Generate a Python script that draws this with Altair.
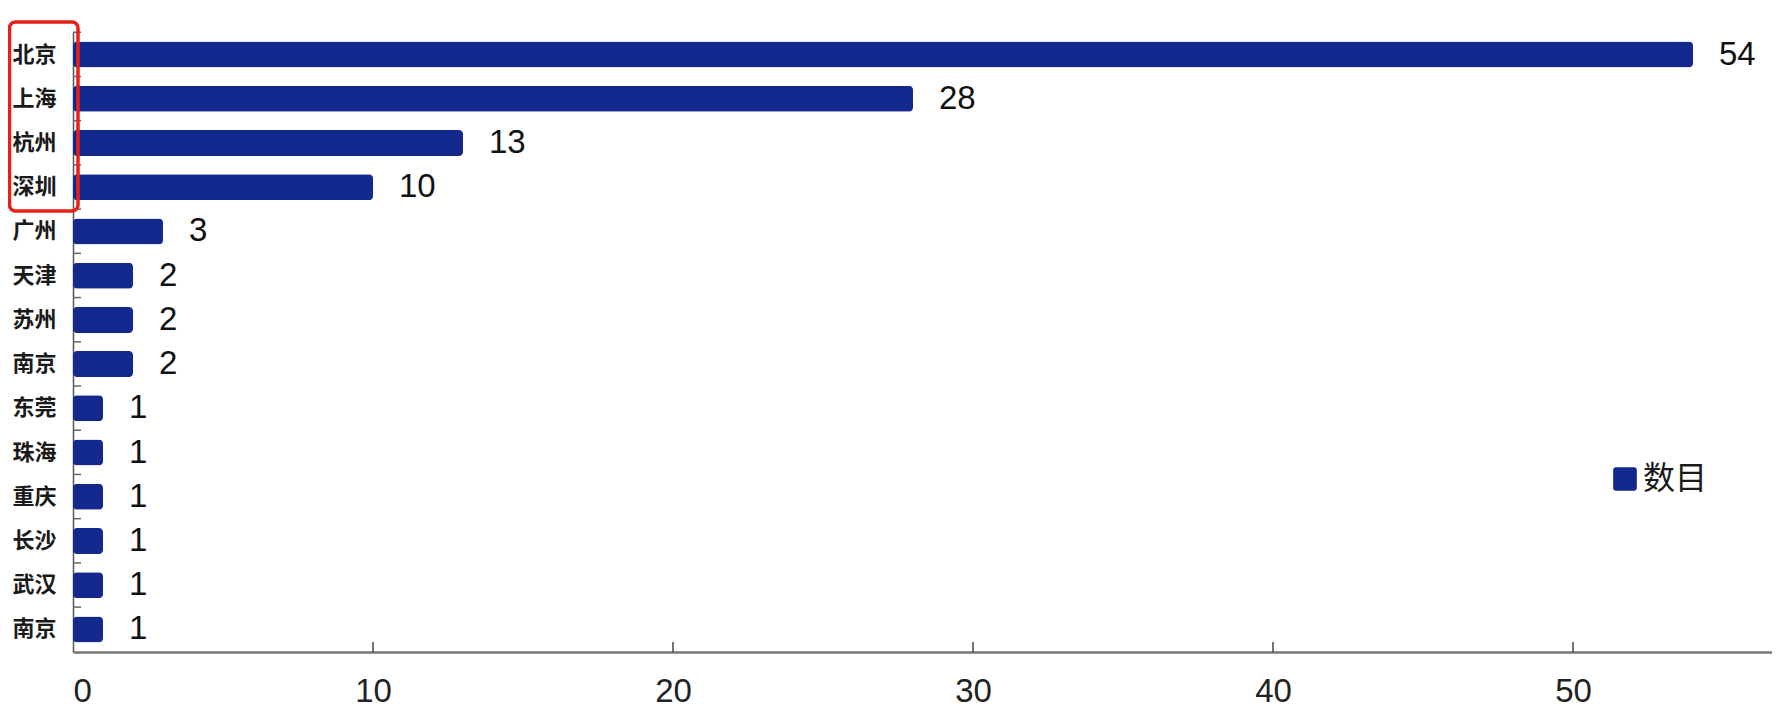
import altair as alt
import pandas as pd

cities = ["北京", "上海", "杭州", "深圳", "广州", "天津", "苏州", "南京",
          "东莞", "珠海", "重庆", "长沙", "武汉", "南京"]
counts = [54, 28, 13, 10, 3, 2, 2, 2, 1, 1, 1, 1, 1, 1]
x_ticks = [10, 20, 30, 40, 50]
series_name = "数目"

df = pd.DataFrame({"rank": list(range(len(cities))), "city": cities,
                   "count": counts, "series": series_name})
ticks_df = pd.DataFrame({"t": x_ticks})

W, H = 1699, 620
BLUE = "#13298d"
label_expr = "[" + ",".join("'%s'" % c for c in cities) + "][datum.value]"
ROUND_SQ = ("M-1,-0.75 Q-1,-1 -0.75,-1 L0.75,-1 Q1,-1 1,-0.75 L1,0.75 "
            "Q1,1 0.75,1 L-0.75,1 Q-1,1 -1,0.75 Z")

yscale = alt.Scale(paddingInner=0.42, paddingOuter=0.22)
xscale = alt.Scale(domain=[0, W / 30.0], nice=False, zero=True)

y_enc = alt.Y("rank:O", scale=yscale, sort="ascending",
              axis=alt.Axis(title=None, labelExpr=label_expr, ticks=False,
                            labelPadding=17, labelFont="Noto Sans CJK SC",
                            labelFontWeight="bold", labelFontSize=22,
                            labelColor="#1a1a1a", domainColor="#555555",
                            domainWidth=1.5))

bars = alt.Chart(df).mark_bar(cornerRadius=4, height=26).encode(
    x=alt.X("count:Q", scale=xscale,
            axis=alt.Axis(title=None, values=[0] + x_ticks, ticks=False,
                          tickSize=0, grid=False, labelPadding=23,
                          labelFont="Liberation Sans", labelFontSize=33,
                          labelColor="#222222", domainColor="#777777",
                          domainWidth=2.5)),
    y=y_enc,
    color=alt.Color("series:N", scale=alt.Scale(range=[BLUE]),
                    legend=alt.Legend(title=None, orient="none",
                                      legendX=1536, legendY=431,
                                      symbolType=ROUND_SQ, symbolSize=560,
                                      symbolStrokeWidth=0, symbolOpacity=1,
                                      labelFont="Noto Sans CJK SC",
                                      labelFontSize=32, labelColor="#1a1a1a",
                                      labelOffset=2, padding=0)),
)

texts = alt.Chart(df).mark_text(align="left", baseline="middle", dx=26,
                                font="Liberation Sans", fontSize=33,
                                color="#111111").encode(
    x=alt.X("count:Q", scale=xscale),
    y=alt.Y("rank:O", scale=yscale, sort="ascending"),
    text="count:Q",
)

yticks = alt.Chart(df).mark_rule(color="#666666", strokeWidth=1.5,
                                 yOffset=-9.5).encode(
    x=alt.value(0), x2=alt.value(8),
    y=alt.Y("rank:O", scale=yscale, sort="ascending", bandPosition=0),
)

xt = alt.Chart(ticks_df).mark_rule(color="#444444", strokeWidth=1.5).encode(
    x=alt.X("t:Q", scale=xscale),
    y=alt.value(H - 10), y2=alt.value(H),
)

box = alt.Chart(df.head(1)).mark_rect(fill=None, filled=False, stroke="#e8201a",
                                      strokeWidth=3.5, cornerRadius=6).encode(
    x=alt.value(-63.5), x2=alt.value(5), y=alt.value(-10), y2=alt.value(179),
)

chart = alt.layer(bars, texts, yticks, xt, box).properties(
    width=W, height=H,
    background="white",
    autosize=alt.AutoSizeParams(type="none"),
    padding={"left": 65, "top": 24, "right": 0, "bottom": 60},
).configure_view(strokeWidth=0)

chart.save("out.html", embed_options={"renderer": "svg", "actions": False})
